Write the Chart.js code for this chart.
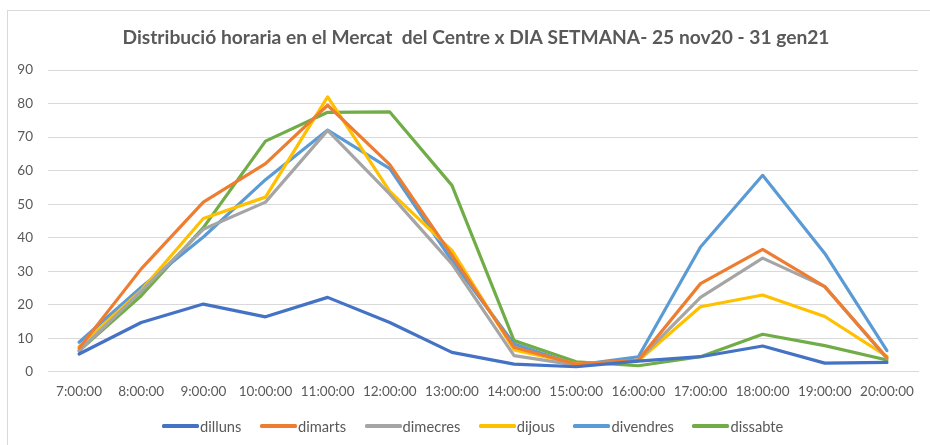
<!DOCTYPE html>
<html>
<head>
<meta charset="utf-8">
<script src="https://cdn.jsdelivr.net/npm/chart.js@4.4.1/dist/chart.umd.min.js"></script>
<style>
  html, body { margin: 0; padding: 0; background: #fff; overflow: hidden; }
  #wrap { position: relative; width: 930px; height: 445px; }
  #frame { position: absolute; left: 7px; top: 10px; width: 940px; height: 460px; border: 1px solid #D9D9D9; box-sizing: border-box; }
  canvas { position: absolute; left: 0; top: 0; }
  #legend { position: absolute; left: 162px; top: 417px; display: flex; gap: 18.5px; font-family: Lato, "Liberation Sans", sans-serif; font-size: 14.7px; color: #595959; line-height: 18px; }
  #legend .item { display: flex; align-items: center; }
  #legend .swatch { width: 37px; height: 3.5px; border-radius: 1.5px; margin-right: 1px; }
</style>
</head>
<body>
<div id="wrap">
  <div id="frame"></div>
  <canvas id="c" width="930" height="445"></canvas>
  <div id="legend"></div>
</div>
<script>
const titleText = 'Distribució horaria en el Mercat  del Centre x DIA SETMANA- 25 nov20 - 31 gen21';
const hours = ['7:00:00','8:00:00','9:00:00','10:00:00','11:00:00','12:00:00','13:00:00','14:00:00','15:00:00','16:00:00','17:00:00','18:00:00','19:00:00','20:00:00'];
const seriesNames = ['dilluns','dimarts','dimecres','dijous','divendres','dissabte'];
const seriesColors = ['#4472C4','#ED7D31','#A5A5A5','#FFC000','#5B9BD5','#70AD47'];
const dilluns   = [5.3, 14.7, 20.2, 16.4, 22.2, 14.7, 5.8, 2.3, 1.5, 3.2, 4.5, 7.7, 2.6, 2.8];
const dimarts   = [7.0, 30.7, 50.6, 62.1, 79.5, 61.8, 34.7, 7.3, 2.3, 3.5, 26.3, 36.5, 25.4, 4.2];
const dimecres  = [6.2, 24.0, 42.5, 50.6, 72.0, 53.0, 32.2, 4.8, 2.0, 3.5, 22.2, 33.9, 25.4, 4.0];
const dijous    = [7.5, 24.3, 45.7, 52.1, 82.0, 53.8, 36.2, 6.5, 2.4, 3.3, 19.4, 22.9, 16.5, 4.6];
const divendres = [8.8, 25.2, 40.2, 57.3, 72.1, 60.6, 33.2, 8.3, 2.0, 4.5, 37.2, 58.6, 35.3, 6.3];
const dissabte  = [6.3, 22.7, 43.0, 68.8, 77.4, 77.5, 55.6, 9.3, 3.0, 1.8, 4.5, 11.2, 7.8, 3.5];
const seriesValues = [dilluns, dimarts, dimecres, dijous, divendres, dissabte];
const yMin = 0, yMax = 90, yStep = 10;

const datasets = seriesNames.map((name, i) => ({
  label: name,
  data: seriesValues[i],
  borderColor: seriesColors[i],
  backgroundColor: seriesColors[i],
  borderWidth: 3.2,
  pointRadius: 0,
  pointHoverRadius: 0,
  tension: 0,
  borderJoinStyle: 'round',
  borderCapStyle: 'round',
  fill: false
}));

const font = 'Lato, "Liberation Sans", sans-serif';

const titleShift = {
  id: 'titleShift',
  afterLayout(chart) {
    const t = chart.titleBlock;
    if (t) { t.left += 22; }
  }
};

new Chart(document.getElementById('c'), {
  type: 'line',
  data: { labels: hours, datasets },
  plugins: [titleShift],
  options: {
    responsive: false,
    animation: false,
    events: [],
    layout: { padding: { left: 12, right: 12, top: 0, bottom: 33 } },
    plugins: {
      legend: { display: false },
      tooltip: { enabled: false },
      title: {
        display: true,
        text: titleText,
        color: '#595959',
        font: { family: font, size: 19.2, weight: 'bold' },
        padding: { top: 26, bottom: 21 }
      }
    },
    scales: {
      x: {
        type: 'category',
        offset: true,
        grid: { display: false, drawTicks: false },
        border: { display: true, color: '#D9D9D9', width: 1 },
        ticks: { color: '#595959', font: { family: font, size: 13.5 }, padding: 12, maxRotation: 0, autoSkip: false }
      },
      y: {
        min: yMin, max: yMax,
        afterFit: (s) => { s.width = 36; },
        grid: { color: '#D9D9D9', lineWidth: 1, drawTicks: false },
        border: { display: false },
        ticks: { stepSize: yStep, color: '#595959', font: { family: font, size: 13.5 }, padding: 15 }
      }
    }
  }
});

const lg = document.getElementById('legend');
seriesNames.forEach((name, i) => {
  const it = document.createElement('div');
  it.className = 'item';
  const sw = document.createElement('span');
  sw.className = 'swatch';
  sw.style.background = seriesColors[i];
  const tx = document.createElement('span');
  tx.textContent = name;
  it.appendChild(sw); it.appendChild(tx);
  lg.appendChild(it);
});
</script>
</body>
</html>
